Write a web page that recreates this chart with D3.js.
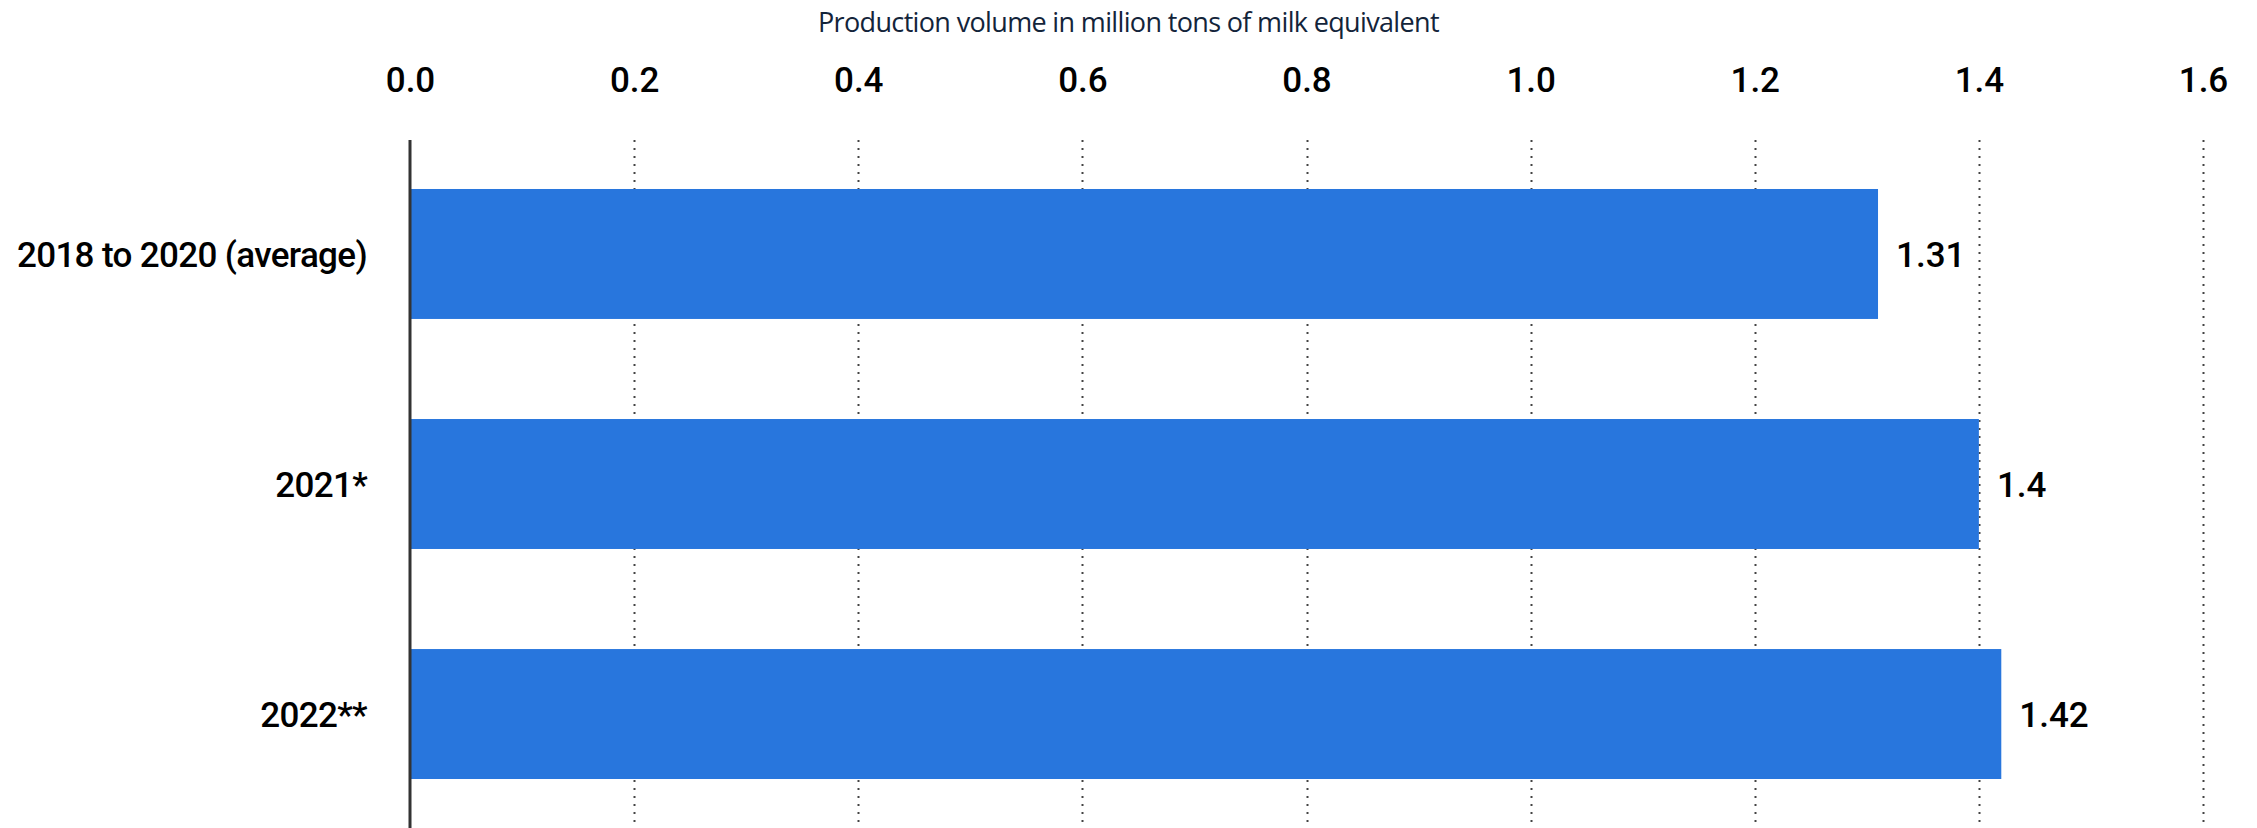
<!DOCTYPE html>
<html>
<head>
<meta charset="utf-8">
<script src="https://cdn.jsdelivr.net/npm/d3@7"></script>
<style>
  html, body { margin: 0; padding: 0; background: #fff; }
  svg { display: block; }
</style>
</head>
<body>
<svg id="chart" width="2257" height="828"></svg>
<script>
const categories = ["2018 to 2020 (average)", "2021*", "2022**"];
const values = [1.31, 1.4, 1.42];
const valueLabels = ["1.31", "1.4", "1.42"];
const tickValues = [0, 0.2, 0.4, 0.6, 0.8, 1.0, 1.2, 1.4, 1.6];
const axisTitle = "Production volume in million tons of milk equivalent";

const W = 2257, H = 828;
const margin = { left: 410, right: 54, top: 140, bottom: 0 };
const svg = d3.select("#chart");

const x = d3.scaleLinear().domain([0, 1.6]).range([margin.left, W - margin.right]);
const y = d3.scaleBand().domain(categories).range([margin.top, H])
  .paddingInner(0.435).paddingOuter(0.213);

const FONT = "Roboto, 'DejaVu Sans', sans-serif";

// gridlines
svg.append("g").selectAll("line")
  .data(tickValues.filter(d => d > 0))
  .join("line")
  .attr("x1", d => Math.round(x(d)) + 0.5).attr("x2", d => Math.round(x(d)) + 0.5)
  .attr("y1", margin.top).attr("y2", H)
  .attr("stroke", "#444").attr("stroke-width", 2)
  .attr("stroke-dasharray", "2,6");

// top axis
const axis = d3.axisTop(x).tickValues(tickValues).tickFormat(d3.format(".1f")).tickSize(0).tickPadding(0);
const gAxis = svg.append("g").attr("transform", "translate(0,92)").call(axis);
gAxis.select(".domain").remove();
gAxis.selectAll("text")
  .attr("font-family", FONT).attr("font-weight", 500)
  .attr("font-size", 35).attr("fill", "#000").attr("dy", 0);

// axis title
svg.append("text")
  .attr("x", 818).attr("y", 32)
  .attr("font-family", "'Open Sans', sans-serif")
  .attr("font-size", 27).attr("fill", "#13243a")
  .attr("letter-spacing", -0.65)
  .text(axisTitle);

// bars
svg.append("g").selectAll("rect")
  .data(values)
  .join("rect")
  .attr("x", x(0))
  .attr("y", (d, i) => y(categories[i]))
  .attr("width", d => x(d) - x(0))
  .attr("height", y.bandwidth())
  .attr("fill", "#2876dd");

// value labels
svg.append("g").selectAll("text")
  .data(values)
  .join("text")
  .attr("x", d => x(d) + 18)
  .attr("y", (d, i) => y(categories[i]) + y.bandwidth() / 2)
  .attr("dy", "0.36em")
  .attr("font-family", FONT).attr("font-weight", 500)
  .attr("font-size", 35).attr("fill", "#000")
  .text((d, i) => valueLabels[i]);

// category labels
const yAxis = d3.axisLeft(y).tickSize(0).tickPadding(43);
const gy = svg.append("g").attr("transform", `translate(${x(0)},0)`).call(yAxis);
gy.select(".domain").remove();
gy.selectAll("text")
  .attr("font-family", FONT).attr("font-weight", 500)
  .attr("font-size", 35).attr("fill", "#000").attr("dy", "0.36em")
  .attr("letter-spacing", -0.65);

// baseline axis line
svg.append("line")
  .attr("x1", x(0)).attr("x2", x(0))
  .attr("y1", margin.top).attr("y2", H)
  .attr("stroke", "#333").attr("stroke-width", 3);
</script>
</body>
</html>
